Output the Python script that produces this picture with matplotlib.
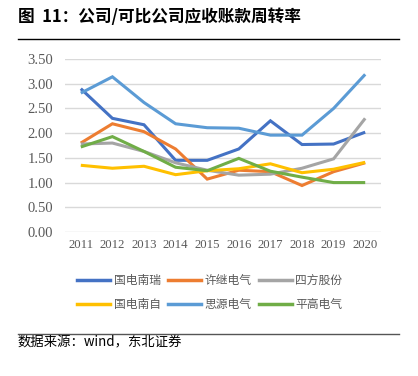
import matplotlib
matplotlib.use('Agg')
import matplotlib.pyplot as plt
from matplotlib.lines import Line2D

plt.rcParams['font.family'] = ['Noto Sans CJK SC', 'DejaVu Sans']

# 数据
years = ['2011', '2012', '2013', '2014', '2015', '2016', '2017', '2018', '2019', '2020']
gdnr = [2.90, 2.30, 2.17, 1.45, 1.45, 1.68, 2.25, 1.77, 1.78, 2.02]
xjdq = [1.80, 2.19, 2.03, 1.68, 1.07, 1.25, 1.22, 0.94, 1.22, 1.40]
sfgf = [1.78, 1.80, 1.63, 1.40, 1.25, 1.15, 1.17, 1.29, 1.48, 2.30]
gdnz = [1.35, 1.29, 1.33, 1.16, 1.24, 1.28, 1.38, 1.20, 1.27, 1.41]
sydq = [2.81, 3.14, 2.62, 2.19, 2.11, 2.10, 1.96, 1.96, 2.50, 3.19]
pgdq = [1.72, 1.93, 1.63, 1.31, 1.24, 1.49, 1.23, 1.11, 1.00, 1.00]

names = ['国电南瑞', '许继电气', '四方股份', '国电南自', '思源电气', '平高电气']
series = [gdnr, xjdq, sfgf, gdnz, sydq, pgdq]
colors = ['#4472C4', '#ED7D31', '#A5A5A5', '#FFC000', '#5B9BD5', '#70AD47']
yticks = [0.0, 0.5, 1.0, 1.5, 2.0, 2.5, 3.0, 3.5]

fig = plt.figure(figsize=(4.18, 3.76), dpi=100)
ax = fig.add_axes([0.1555, 0.383, 0.756, 0.460])

x = list(range(len(years)))
for vals, c in zip(series, colors):
    ax.plot(x, vals, color=c, lw=2.2, solid_capstyle='butt', solid_joinstyle='miter')

ax.set_xlim(-0.5, len(years) - 0.5)
ax.set_ylim(0, 3.5)
ax.set_yticks(yticks)
ax.set_yticklabels([f'{v:.2f}' for v in yticks], family='Liberation Serif', fontsize=10.5, color='#595959')
ax.set_xticks(x)
ax.set_xticklabels(years, family='Liberation Serif', fontsize=9.2, color='#595959')
ax.tick_params(axis='x', length=0, pad=5)
ax.tick_params(axis='y', length=0, pad=8.5)
ax.grid(axis='y', color='#D9D9D9', lw=1)
ax.set_axisbelow(True)
for s in ax.spines.values():
    s.set_visible(False)

# 图例按行排列
order = [0, 3, 1, 4, 2, 5]
handles = [Line2D([0], [0], color=colors[i], lw=2.5) for i in order]
labels = [names[i] for i in order]
fig.legend(handles, labels, loc='center', bbox_to_anchor=(0.502, 0.222), ncol=3,
           frameon=False, fontsize=8.5, handlelength=2.8, handletextpad=0.3,
           columnspacing=0.6, labelspacing=0.95, labelcolor='#595959',
           borderpad=0)

fig.text(0.043, 0.955, '图  11：公司/可比公司应收账款周转率', fontsize=12, fontweight='bold',
         va='center', ha='left')
fig.add_artist(Line2D([0.043, 0.955], [0.896, 0.896], color='black', lw=1.0))
fig.add_artist(Line2D([0.043, 0.955], [0.112, 0.112], color='#555555', lw=1.0))
fig.text(0.043, 0.088, '数据来源：wind，东北证券', fontsize=9.6, va='center', ha='left')

fig.savefig('out.png', dpi=100)
